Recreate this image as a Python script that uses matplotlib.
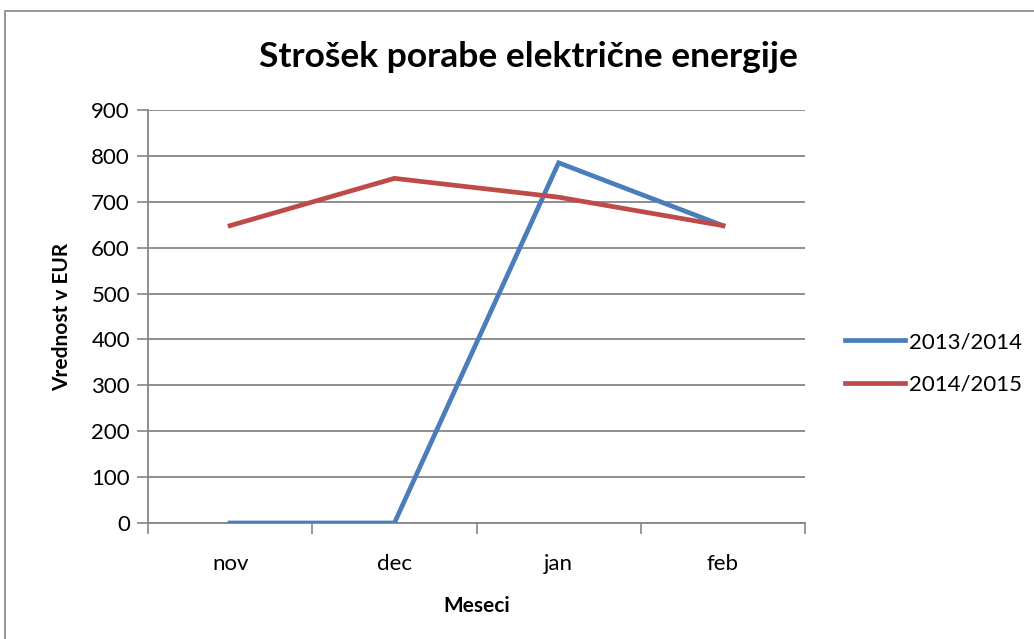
import matplotlib
matplotlib.use("Agg")
import matplotlib.pyplot as plt
from matplotlib.patches import Rectangle
import numpy as np

months = ["nov", "dec", "jan", "feb"]
s2013 = [0, 0, 785, 648]
s2014 = [648, 751, 710, 648]
series_names = ["2013/2014", "2014/2015"]
yticks = [0, 100, 200, 300, 400, 500, 600, 700, 800, 900]

plt.rcParams['font.family'] = ['Lato', 'DejaVu Sans']

fig = plt.figure(figsize=(10.34, 6.39), dpi=100)
fig.patches.append(Rectangle((5/1034, -0.1), 1.2, 1 - 11/639 + 0.1, transform=fig.transFigure,
                             fill=False, edgecolor='#868686', linewidth=1.2))
ax = fig.add_axes([148/1034, 1 - 523/639, (805-148)/1034, (523-110)/639])

x = np.arange(len(months))
ax.plot(x, s2013, color='#4A7EBB', linewidth=3.4, label=series_names[0], solid_joinstyle='miter', zorder=3)
ax.plot(x, s2014, color='#BE4B48', linewidth=3.4, label=series_names[1], solid_joinstyle='miter', zorder=3)

ax.set_xlim(-0.5, 3.5)
ax.set_ylim(0, 900)
ax.set_yticks(yticks)
ax.set_yticklabels([str(v) for v in yticks], fontsize=16)
ax.set_xticks(x)
ax.set_xticklabels(months, fontsize=16)
ax.set_xticks(np.arange(-0.5, 4, 1), minor=True)
ax.tick_params(axis='x', which='major', length=0, pad=22)
ax.tick_params(axis='x', which='minor', length=8, color='#868686', width=1.2, direction='out')
ax.tick_params(axis='y', length=8, color='#868686', width=1.2, direction='out', pad=5)
ax.grid(axis='y', color='#868686', linewidth=1.3)
ax.set_axisbelow(True)
for s in ['top', 'right']:
    ax.spines[s].set_visible(False)
for s in ['left', 'bottom']:
    ax.spines[s].set_color('#868686')
    ax.spines[s].set_linewidth(1.3)

ax.set_xlabel("Meseci", fontsize=15, fontweight='bold', labelpad=16)
ax.set_ylabel("Vrednost v EUR", fontsize=15, fontweight='bold', labelpad=14)
fig.text(528/1034, 1 - 57/639, "Strošek porabe električne energije", fontsize=25.5, fontweight='bold',
         ha='center', va='center')

ax.legend(loc='center left', bbox_to_anchor=(1.03, 0.387), frameon=False,
          fontsize=16, handlelength=2.7, labelspacing=1.0, handletextpad=0.2)

fig.savefig("out.png", dpi=100)
